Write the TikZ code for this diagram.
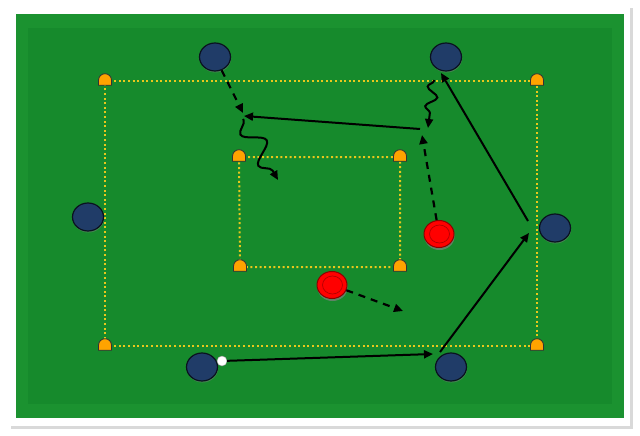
\documentclass[tikz,border=0pt]{standalone}
\usepackage{xcolor}
\usepackage{tikz}
\usetikzlibrary{shapes.geometric,arrows.meta,decorations.pathmorphing,shadows}

\definecolor{pitch}{RGB}{22,138,44}
\definecolor{pitchrim}{RGB}{27,146,48}
\definecolor{navy}{RGB}{32,60,104}
\definecolor{conecol}{RGB}{255,163,0}
\definecolor{linecol}{RGB}{232,200,28}

\begin{document}
\begin{tikzpicture}[
    x=1pt, y=-1pt,
    player/.style={ellipse, draw=black!70!navy, fill=navy, line width=1.2pt, minimum width=31pt, minimum height=28pt, inner sep=0pt, drop shadow={opacity=0.45, shadow xshift=0.5pt, shadow yshift=-1.5pt}},
    opponent/.style={ellipse, draw=red!55!black, fill=red, line width=1pt, minimum width=30pt, minimum height=27pt, inner sep=0pt,
        path picture={\draw[red!70!black, line width=0.7pt] ([xshift=0.5pt]path picture bounding box.center) ellipse (10pt and 9pt);},
        drop shadow={opacity=0.7, shadow xshift=0.5pt, shadow yshift=-2.5pt}},
    cone/.style={rectangle, minimum width=15pt, minimum height=13pt, inner sep=0pt, anchor=south, yshift=-5pt,
        path picture={\filldraw[fill=conecol, draw=black!80, line width=0.8pt]
            ([shift={(1pt,0.6pt)}]path picture bounding box.south west) -- ++(0pt,5pt)
            arc[start angle=180, end angle=0, radius=6.5pt] -- ++(0pt,-5pt) -- cycle;}},
    ball/.style={circle, draw=black!40, fill=white, minimum width=9pt, minimum height=10pt, inner sep=0pt},
    grid/.style={draw=linecol, line width=2pt, dash pattern=on 2pt off 2.6pt},
    pass/.style={-{Triangle[length=9pt,width=8pt]}, line width=2pt},
    run/.style={pass, dash pattern=on 7pt off 6pt, line width=2.2pt},
    dribble/.style={pass, decorate, decoration={snake, mirror, amplitude=#1, segment length=#1*3.6, pre length=1pt, post length=10pt}}
]
    \useasboundingbox (0,0) rectangle (640,436);

    % frame and pitch
    \fill[white, drop shadow={opacity=0.3, shadow xshift=3pt, shadow yshift=-3pt}] (8,5) rectangle (630,426);
    \fill[pitchrim] (16,14) rectangle (624,418);
    \fill[pitch] (28,28) rectangle (612,404);

    % cone positions
    \coordinate (c1) at (105,81);
    \coordinate (c2) at (537,81);
    \coordinate (c3) at (105,346);
    \coordinate (c4) at (537,346);
    \coordinate (c5) at (239,157);
    \coordinate (c6) at (400,157);
    \coordinate (c7) at (240,267);
    \coordinate (c8) at (400,267);

    \draw[grid] (c1) -- (c2) -- (c4) -- (c3) -- cycle;
    \draw[grid] (c5) -- (c6) -- (c8) -- (c7) -- cycle;

    \foreach \i in {1,...,8}
        \node[cone] (k\i) at (c\i) {};

    % players
    \node[player] (p1) at (215,57) {};
    \node[player] (p2) at (446,57) {};
    \node[player] (p3) at (88,217) {};
    \node[player] (p4) at (555,228) {};
    \node[player] (p5) at (202,367) {};
    \node[player] (p6) at (451,367) {};
    \node[opponent] (r1) at (439,234) {};
    \node[opponent] (r2) at (332,285) {};
    \node[ball] (b) at (222,361) {};

    % free ends
    \coordinate (a1) at (243,113);
    \coordinate (a2) at (420,129);
    \coordinate (a3) at (244,116);
    \coordinate (a4) at (243,119);
    \coordinate (a5) at (278,180);
    \coordinate (a6) at (434,80);
    \coordinate (a7) at (428,128);
    \coordinate (a8) at (422,135);
    \coordinate (a9) at (403,311);
    \coordinate (a10) at (433,354);
    \coordinate (a11) at (440,352);
    \coordinate (a12) at (529,233);
    \coordinate (a13) at (528,221);
    \coordinate (a14) at (441,73);

    \draw[run] (p1) -- (a1);
    \draw[pass] (a2) -- (a3);
    \draw[dribble=10pt] (a4) -- (a5);
    \draw[dribble=5.5pt] (a6) -- (a7);
    \draw[run] (r1) -- (a8);
    \draw[run] (r2) -- (a9);
    \draw[pass] (b) -- (a10);
    \draw[pass] (a11) -- (a12);
    \draw[pass] (a13) -- (a14);
\end{tikzpicture}
\end{document}
